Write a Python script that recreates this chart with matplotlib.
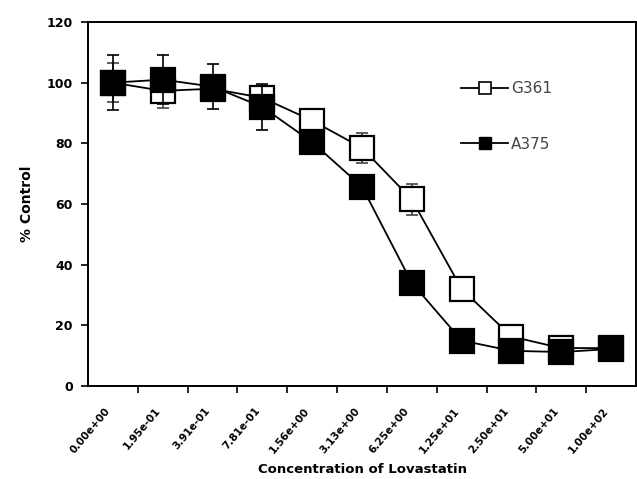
import matplotlib
matplotlib.use("Agg")
import matplotlib.pyplot as plt
import matplotlib.transforms as mtransforms
from matplotlib.lines import Line2D
import numpy as np

# ---- data ----
conc_labels = ["0.00e+00", "1.95e-01", "3.91e-01", "7.81e-01", "1.56e+00",
               "3.13e+00", "6.25e+00", "1.25e+01", "2.50e+01", "5.00e+01", "1.00e+02"]
g361 = [100, 97.3, 98, 95, 87.5, 78.5, 61.5, 32, 16.3, 12.5, 12.5]
g361_err = [6.5, 5.5, 3, 3, 3.5, 5, 5, 2, 1, 1, 1]
a375 = [100, 101, 98.7, 92, 80.4, 65.7, 34, 15, 11.6, 11.2, 12.2]
a375_err = [9, 8, 7.3, 7.5, 2, 2, 2, 1, 1, 1, 1]
y_ticks = [0, 20, 40, 60, 80, 100, 120]

W, H = 637, 479
fig = plt.figure(figsize=(W / 100, H / 100), dpi=100)
ax = fig.add_axes([88 / W, (H - 386) / H, (636 - 88) / W, (386 - 22) / H])

x = np.arange(len(conc_labels))

ax.errorbar(x, g361, yerr=g361_err, fmt='none', ecolor='#444444', elinewidth=1.2,
            capsize=4.5, capthick=1.2, zorder=2)
ax.plot(x, g361, color='black', lw=1.3, marker='s', markersize=17,
        markerfacecolor='white', markeredgecolor='black', markeredgewidth=1.6, zorder=3)
ax.errorbar(x, a375, yerr=a375_err, fmt='none', ecolor='black', elinewidth=1.2,
            capsize=4.5, capthick=1.2, zorder=4)
ax.plot(x, a375, color='black', lw=1.3, marker='s', markersize=17,
        markerfacecolor='black', markeredgecolor='black', markeredgewidth=1.6, zorder=5)

ax.set_xlim(-0.5, 10.5)
ax.set_ylim(0, 120)

for s in ax.spines.values():
    s.set_linewidth(1.4)

ax.set_yticks(y_ticks)
ax.set_yticklabels([str(v) for v in y_ticks], fontsize=9, fontweight='bold')
ax.tick_params(axis='y', direction='out', length=5, width=1.2, pad=6)

# category labels centred on points, tick marks between categories
ax.set_xticks(x)
ax.set_xticklabels(conc_labels, fontsize=7.5, fontweight='bold', rotation=50,
                   ha='right', rotation_mode='anchor')
ax.tick_params(axis='x', which='major', length=0, pad=14)
ax.set_xticks(x[:-1] + 0.5, minor=True)
ax.tick_params(axis='x', which='minor', direction='out', length=5, width=1.2)
offset = mtransforms.ScaledTranslation(-8 / 100, 0, fig.dpi_scale_trans)
for lbl in ax.get_xticklabels():
    lbl.set_transform(lbl.get_transform() + offset)

ax.set_ylabel("% Control", fontsize=10, fontweight='bold', labelpad=9)
ax.set_xlabel("Concentration of Lovastatin", fontsize=9.5, fontweight='bold', labelpad=6)

handles = [
    Line2D([], [], color='black', lw=1.3, marker='s', markersize=8,
           markerfacecolor='white', markeredgecolor='black', markeredgewidth=1.2),
    Line2D([], [], color='black', lw=1.3, marker='s', markersize=8,
           markerfacecolor='black', markeredgecolor='black'),
]
leg = ax.legend(handles, ["G361", "A375"], loc='upper left',
                bbox_to_anchor=((455 - 88) / (636 - 88), (386 - 75) / (386 - 22)),
                frameon=False, fontsize=11, handlelength=3.1, handletextpad=0.15,
                labelspacing=2.65, borderaxespad=0)
for t in leg.get_texts():
    t.set_color('#444444')

fig.savefig("out.png", dpi=100)
